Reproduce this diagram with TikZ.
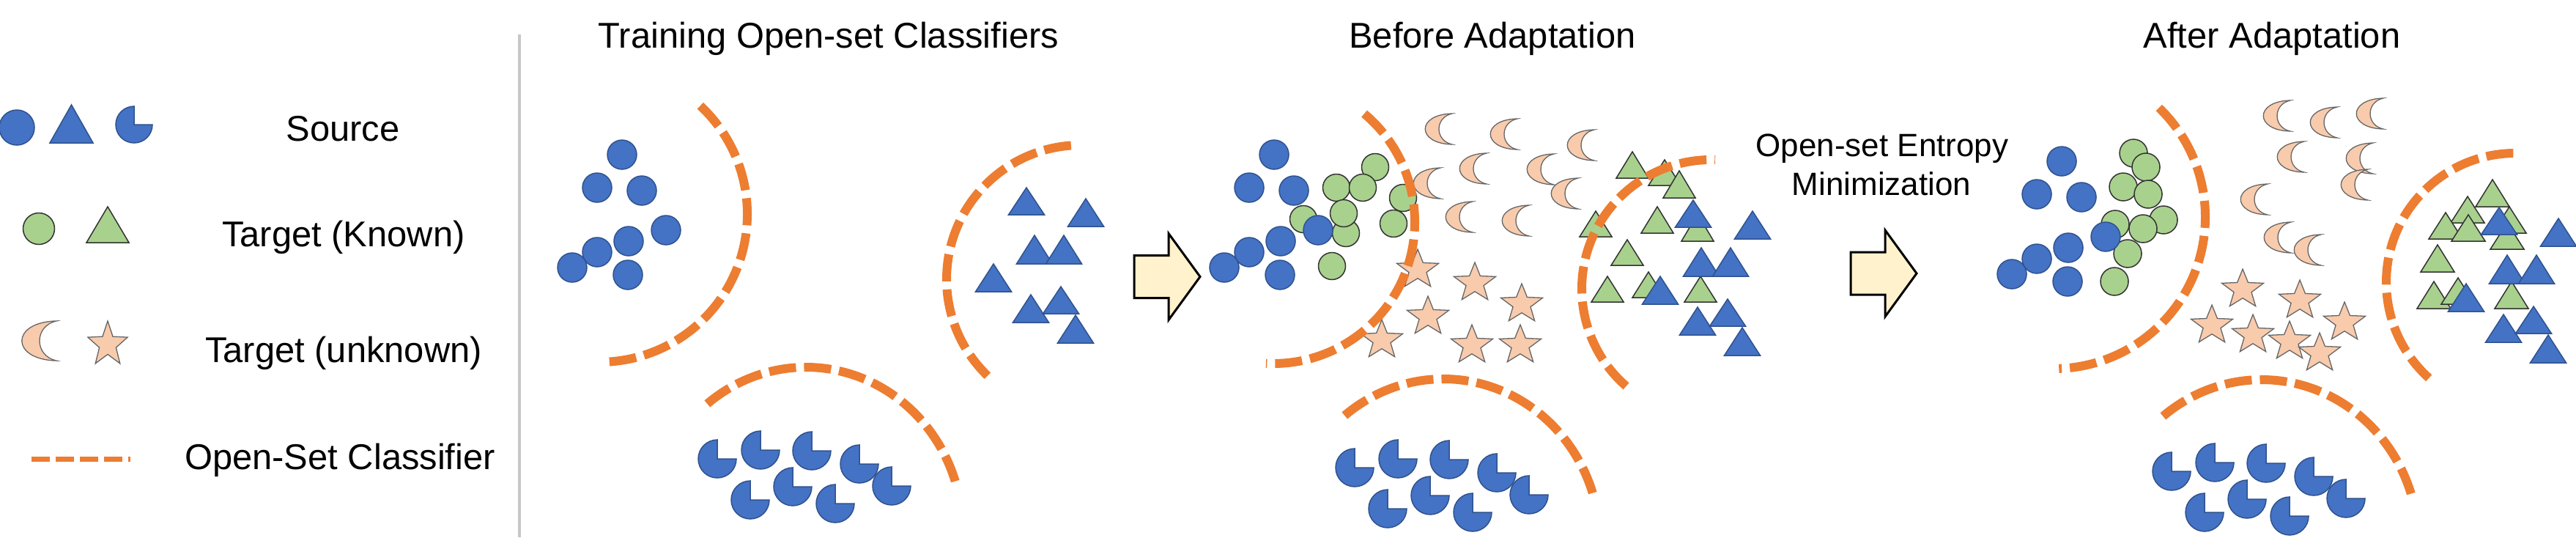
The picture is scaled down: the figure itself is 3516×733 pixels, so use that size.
\documentclass[tikz,border=0pt]{standalone}
\usepackage{fontspec}
\setmainfont{Liberation Sans}
\definecolor{blueF}{HTML}{4472C4}
\definecolor{blueD}{HTML}{2F528F}
\definecolor{greenF}{HTML}{A9D18E}
\definecolor{peachF}{HTML}{F8CBAD}
\definecolor{orangeC}{HTML}{ED7D31}
\definecolor{arrowF}{HTML}{FFF2CC}
\tikzset{
  bsty/.style={fill=blueF, draw=blueD, line width=0.015cm},
  gsty/.style={fill=greenF, draw=black!80, line width=0.015cm},
  psty/.style={fill=peachF, draw=black!60, line width=0.013cm},
  dsh/.style={draw=orangeC, line width=0.12cm, dash pattern=on 0.37cm off 0.11cm},
  ldsh/.style={draw=orangeC, line width=0.07cm, dash pattern=on 0.25cm off 0.08cm},
  arr/.style={fill=arrowF, draw=black, line width=0.03cm, line join=miter},
  sepline/.style={draw=black!22, line width=0.04cm},
  lbl/.style={font=\fontsize{13.9pt}{16pt}\selectfont, inner sep=0pt, anchor=base},
  elbl/.style={font=\fontsize{12.5pt}{15pt}\selectfont, inner sep=0pt, anchor=base},
}
\newcommand{\mkBc}[3]{\draw[bsty] (#1,#2) circle[radius=#3];}
\newcommand{\mkGc}[3]{\draw[gsty] (#1,#2) circle[radius=#3];}
\newcommand{\mkTri}[5]{\draw[#1] (#2,#3) -- ({#2+#5},#4) -- ({#2-#5},#4) -- cycle;}
\newcommand{\mkPac}[3]{\draw[bsty] (#1,#2) -- ++(#3,0) arc[start angle=0,end angle=270,radius=#3] -- cycle;}
\newcommand{\mkMoon}[3]{\draw[psty] ({#1+18*#3},{#2-21*#3}) .. controls ({#1-31*#3},{#2-20*#3}) and ({#1-31*#3},{#2+20*#3}) .. ({#1+18*#3},{#2+21*#3}) .. controls ({#1-6*#3},{#2+16*#3}) and ({#1-6*#3},{#2-16*#3}) .. ({#1+18*#3},{#2-21*#3}) -- cycle;}
\newcommand{\mkStar}[4]{\draw[psty] (#1,{#2-#4}) \foreach \k in {1,...,9}{ -- ({#1+#3*(1-0.58*mod(\k,2))*cos(-90+36*\k)},{#2+#4*(1-0.58*mod(\k,2))*sin(-90+36*\k)})} -- cycle;}
\newcommand{\mkArrow}[2]{\draw[arr] (#1,{#2-29}) -- ({#1+47},{#2-29}) -- ({#1+47},{#2-59}) -- ({#1+90},#2) -- ({#1+47},{#2+59}) -- ({#1+47},{#2+29}) -- (#1,{#2+29}) -- cycle;}
\newcommand{\grpBlueCircs}[2]{%
  \mkBc{849+#1}{211+#2}{20}\mkBc{815+#1}{256+#2}{20}\mkBc{876+#1}{260+#2}{20}%
  \mkBc{909+#1}{314+#2}{20}\mkBc{858+#1}{329+#2}{20}\mkBc{815+#1}{344+#2}{20}%
  \mkBc{781+#1}{365+#2}{20}\mkBc{857+#1}{375+#2}{20}}
\newcommand{\grpPacs}[2]{%
  \mkPac{979+#1}{626+#2}{26}\mkPac{1038+#1}{614+#2}{26}\mkPac{1108+#1}{615+#2}{26}%
  \mkPac{1173+#1}{633+#2}{26}\mkPac{1024+#1}{682+#2}{26}\mkPac{1082+#1}{664+#2}{26}%
  \mkPac{1140+#1}{687+#2}{26}\mkPac{1217+#1}{663+#2}{26}}
\newcommand{\grpBlueTris}[2]{%
  \mkTri{bsty}{1401+#1}{256+#2}{293+#2}{24.5}\mkTri{bsty}{1482+#1}{271+#2}{309+#2}{24.5}%
  \mkTri{bsty}{1412+#1}{321+#2}{360+#2}{24.5}\mkTri{bsty}{1452+#1}{321+#2}{360+#2}{24.5}%
  \mkTri{bsty}{1356+#1}{360+#2}{398+#2}{24.5}\mkTri{bsty}{1407+#1}{402+#2}{440+#2}{24.5}%
  \mkTri{bsty}{1448+#1}{391+#2}{428+#2}{24.5}\mkTri{bsty}{1468+#1}{430+#2}{468+#2}{24.5}}
\begin{document}
\begin{tikzpicture}[x=0.01cm,y=0.01cm,yscale=-1]
\useasboundingbox (0,0) rectangle (3516,733);
\fill[white] (0,0) rectangle (3516,733);

% ---------- legend ----------
\mkBc{23}{174}{24}
\mkTri{bsty}{97.5}{143}{195}{29.5}
\mkPac{183}{170}{25}
\mkGc{53}{312}{21.5}
\mkTri{gsty}{147}{282}{331}{29}
\mkMoon{54}{465}{1.29}
\mkStar{147}{470}{28.5}{32}
\draw[ldsh] (43,626) -- (178,626);
\node[lbl] (lsrc) at (468,192) {Source};
\node[lbl] (lknown) at (469,336) {Target (Known)};
\node[lbl] (lunk) at (469,494) {Target (unknown)};
\node[lbl] (lcls) at (464,640) {Open-Set Classifier};
\draw[sepline] (709,47) -- (709,733);

% ---------- titles ----------
\node[lbl] (t1) at (1131,65.5) {Training Open-set Classifiers};
\node[lbl] (t2) at (2037,65.5) {Before Adaptation};
\node[lbl] (t3) at (3101,65.5) {After Adaptation};
\node[elbl] (e1) at (2569,213) {Open-set Entropy};
\node[elbl] (e2) at (2568,266.5) {Minimization};

% ---------- panel 1 ----------
\grpBlueCircs{0}{0}
\grpBlueTris{0}{0}
\grpPacs{0}{0}
\draw[dsh] (818,292) ++(-47:202) arc[start angle=-47,end angle=88,radius=202];
\draw[dsh] (1475,381) ++(134:183) arc[start angle=134,end angle=268,radius=183];
\draw[dsh] (1100,725) ++(231:214 and 224) arc[start angle=231,end angle=343,x radius=214,y radius=224];

% ---------- arrow 1 ----------
\mkArrow{1548}{377.5}

% ---------- panel 2 ----------
\mkGc{1877}{228}{18.5}\mkGc{1824}{256}{18.5}\mkGc{1860}{256}{18.5}
\mkGc{1779}{299}{18.5}\mkGc{1837}{318}{18.5}\mkGc{1834}{291}{18.5}
\mkGc{1915}{270}{18.5}\mkGc{1902}{305}{18.5}\mkGc{1818}{363}{18.5}
\grpBlueCircs{890}{0}
\mkMoon{1964}{176}{1}\mkMoon{2053}{183}{1}\mkMoon{2158}{198}{1}
\mkMoon{2011}{230}{1}\mkMoon{2103}{231}{1}\mkMoon{2136}{264}{1}
\mkMoon{1948}{250}{1}\mkMoon{1992}{296}{1}\mkMoon{2069}{301}{1}
\mkStar{1935}{368}{30}{28}\mkStar{2013}{386}{30}{28}\mkStar{2077}{415}{30}{28}
\mkStar{1949}{432}{30}{28}\mkStar{1886}{464}{30}{28}\mkStar{2009}{471}{30}{28}
\mkStar{2075}{471}{30}{28}
\mkTri{gsty}{2228}{207}{243}{22}\mkTri{gsty}{2272}{218}{253}{22}
\mkTri{gsty}{2292}{233}{270}{22}\mkTri{gsty}{2178}{288}{323}{22}
\mkTri{gsty}{2262}{282}{318}{22}\mkTri{gsty}{2317}{292}{329}{22}
\mkTri{gsty}{2221}{327}{362}{22}\mkTri{gsty}{2194}{377}{412}{22}
\mkTri{gsty}{2250}{371}{406}{22}\mkTri{gsty}{2321}{377}{412}{22}
\grpBlueTris{910}{17}
\grpPacs{870}{12}
\draw[dsh] (1738,303) ++(-50:193) arc[start angle=-50,end angle=93,radius=193];
\draw[dsh] (2335,394) ++(131:176) arc[start angle=131,end angle=272,radius=176];
\draw[dsh] (1970,741) ++(231:214 and 224) arc[start angle=231,end angle=343,x radius=214,y radius=224];

% ---------- arrow 2 ----------
\mkArrow{2526}{373}

% ---------- panel 3 ----------
\mkGc{2912}{209}{19}\mkGc{2929}{228}{19}\mkGc{2898}{255}{19}
\mkGc{2932}{265}{19}\mkGc{2887}{306}{19}\mkGc{2953}{300}{19}
\mkGc{2925}{312}{19}\mkGc{2904}{346}{19}\mkGc{2886}{384}{19}
\grpBlueCircs{1965}{9}
\mkMoon{3108}{158}{1}\mkMoon{3172}{167}{1}\mkMoon{3235}{155}{1}
\mkMoon{3127}{214}{1}\mkMoon{3221}{216}{1}\mkMoon{3214}{252}{1}
\mkMoon{3077}{272}{1}\mkMoon{3109}{324}{1}\mkMoon{3150}{341}{1}
\mkStar{3061}{395}{30}{28}\mkStar{3139}{410}{30}{28}\mkStar{3019}{444}{30}{28}
\mkStar{3075}{457}{30}{28}\mkStar{3200}{440}{30}{28}\mkStar{3125}{466}{30}{28}
\mkStar{3166}{482}{30}{28}
\mkTri{gsty}{3402}{245}{282}{23}\mkTri{gsty}{3368}{268}{304}{23}
\mkTri{gsty}{3338}{290}{326}{23}\mkTri{gsty}{3369}{293}{329}{23}
\mkTri{gsty}{3425}{282}{318}{23}\mkTri{gsty}{3422}{304}{340}{23}
\mkTri{gsty}{3327}{334}{371}{23}\mkTri{gsty}{3322}{384}{421}{23}
\mkTri{gsty}{3355}{379}{415}{23}\mkTri{gsty}{3428}{384}{421}{23}
\grpBlueTris{2010}{27}
\grpPacs{1985}{17}
\draw[dsh] (2803,296) ++(-46:207) arc[start angle=-46,end angle=88,radius=207];
\draw[dsh] (3433,385) ++(132:176) arc[start angle=132,end angle=272,radius=176];
\draw[dsh] (3087,742) ++(231:214 and 224) arc[start angle=231,end angle=343,x radius=214,y radius=224];
\end{tikzpicture}
\end{document}
